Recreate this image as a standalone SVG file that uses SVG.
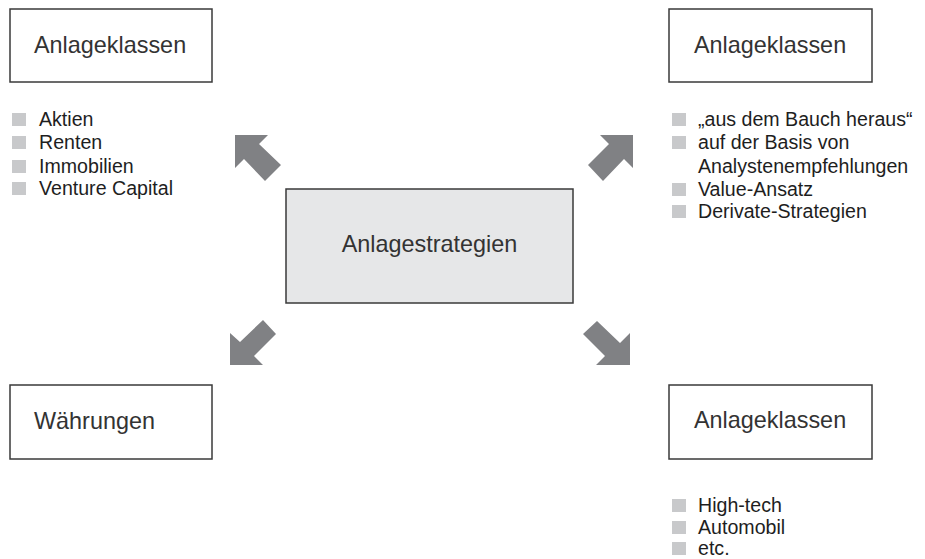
<svg xmlns="http://www.w3.org/2000/svg" width="925" height="559" viewBox="0 0 925 559">
<style>
.box{fill:#fff;stroke:#3a3a3a;stroke-width:1.5}
.center{fill:#e6e7e8;stroke:#3a3a3a;stroke-width:1.5}
.title{font-family:"Liberation Sans",Arial,sans-serif;font-size:23.4px;fill:#333}
.item{font-family:"Liberation Sans",Arial,sans-serif;font-size:19.6px;fill:#1e1e1e}
.bul{fill:#c8c9cb}
.arrow{fill:#808184}
</style>
<rect width="925" height="559" fill="#fff"/>
<g id="connectors">
<polygon class="arrow" points="235,135 268,135 259,144 281,165 265,181 244,159 235,168"/>
<polygon class="arrow" points="633,135 600,135 609,144 588,165 603,181 624,159 633,168"/>
<polygon class="arrow" points="230,365 230,333 240,342 263,320 276,334 254,356 263,365"/>
<polygon class="arrow" points="630,365 630,333 620,343 597,321 583,334 605,356 596,365"/>
</g>
<g id="node-center">
<rect class="center" x="286" y="189" width="287" height="114"/>
<text class="title" x="429.5" y="252" text-anchor="middle">Anlagestrategien</text>
</g>
<g id="node-topleft">
<rect class="box" x="10" y="9" width="202" height="73"/>
<text class="title" x="34" y="53">Anlageklassen</text>
</g>
<g id="list-topleft">
<rect class="bul" x="12" y="113" width="14" height="13"/>
<text class="item" x="39" y="126">Aktien</text>
<rect class="bul" x="12" y="136" width="14" height="13"/>
<text class="item" x="39" y="149">Renten</text>
<rect class="bul" x="12" y="160" width="14" height="13"/>
<text class="item" x="39" y="173">Immobilien</text>
<rect class="bul" x="12" y="182" width="14" height="13"/>
<text class="item" x="39" y="195">Venture Capital</text>
</g>
<g id="node-topright">
<rect class="box" x="669" y="9" width="203" height="73"/>
<text class="title" x="694" y="53">Anlageklassen</text>
</g>
<g id="list-topright">
<rect class="bul" x="672" y="113" width="14" height="13"/>
<text class="item" x="698" y="126">„aus dem Bauch heraus“</text>
<rect class="bul" x="672" y="136" width="14" height="13"/>
<text class="item" x="698" y="149">auf der Basis von</text>
<text class="item" x="698" y="173">Analystenempfehlungen</text>
<rect class="bul" x="672" y="183" width="14" height="13"/>
<text class="item" x="698" y="196">Value-Ansatz</text>
<rect class="bul" x="672" y="205" width="14" height="13"/>
<text class="item" x="698" y="218">Derivate-Strategien</text>
</g>
<g id="node-bottomleft">
<rect class="box" x="10" y="385" width="202" height="74"/>
<text class="title" x="34" y="429">Währungen</text>
</g>
<g id="node-bottomright">
<rect class="box" x="669" y="385" width="203" height="74"/>
<text class="title" x="694" y="428">Anlageklassen</text>
</g>
<g id="list-bottomright">
<rect class="bul" x="672" y="499" width="14" height="13"/>
<text class="item" x="698" y="512">High-tech</text>
<rect class="bul" x="672" y="521" width="14" height="13"/>
<text class="item" x="698" y="534">Automobil</text>
<rect class="bul" x="672" y="542" width="14" height="13"/>
<text class="item" x="698" y="555">etc.</text>
</g>
</svg>
